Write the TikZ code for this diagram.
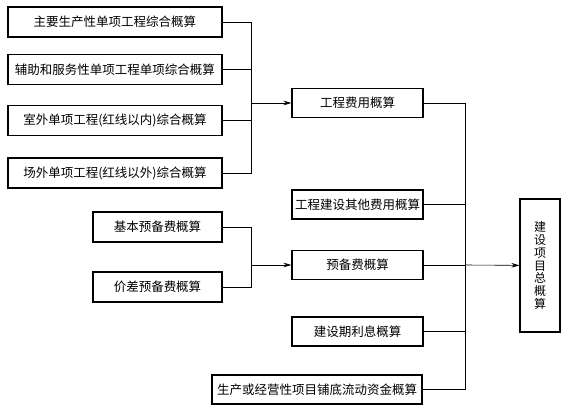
\documentclass[tikz,border=0pt]{standalone}
\usepackage{fontspec}
\setmainfont{Noto Sans CJK SC}
\usetikzlibrary{arrows.meta}
\begin{document}
\begin{tikzpicture}[x=1pt,y=-1pt]
    \tikzstyle{noeud}=[rectangle,draw,line width=1.1pt,inner sep=0pt,align=center,font=\fontsize{12.5}{13}\selectfont]
    \tikzstyle{link}=[-{Stealth[length=8pt,width=4.5pt]},line width=0.6pt]
    \tikzstyle{ligne}=[line width=0.6pt]
    \useasboundingbox (0,0) rectangle (571,415);
    \node[noeud,minimum width=214,minimum height=30] (N01) at (115,22) {主要生产性单项工程综合概算};
    \node[noeud,minimum width=214,minimum height=30] (N02) at (115,69.5) {辅助和服务性单项工程单项综合概算};
    \node[noeud,minimum width=214,minimum height=30] (N03) at (115,120.5) {室外单项工程(红线以内)综合概算};
    \node[noeud,minimum width=214,minimum height=30] (N04) at (115,173) {场外单项工程(红线以外)综合概算};
    \node[noeud,minimum width=129,minimum height=30] (N11) at (157.5,227) {基本预备费概算};
    \node[noeud,minimum width=129,minimum height=30] (N12) at (157.5,287) {价差预备费概算};
    \node[noeud,minimum width=131,minimum height=29] (N05) at (357.5,103) {工程费用概算};
    \node[noeud,minimum width=131,minimum height=29] (N06) at (357.5,204.5) {工程建设其他费用概算};
    \node[noeud,minimum width=131,minimum height=29] (N07) at (357.5,265) {预备费概算};
    \node[noeud,minimum width=131,minimum height=29] (N08) at (357.5,331.5) {建设期利息概算};
    \node[noeud,minimum width=210,minimum height=29] (N09) at (317,389.5) {生产或经营性项目铺底流动资金概算};
    \node[noeud,minimum width=40,minimum height=133,font=\fontsize{12}{12.7}\selectfont] (N10) at (540,265.5) {建\\设\\项\\目\\总\\概\\算};

    \coordinate (J1) at (251,103);
    \coordinate (J2) at (251,265);
    \coordinate (J3) at (465,265);
    \draw[ligne] (N01) -| (J1);
    \draw[ligne] (N02) -| (J1);
    \draw[ligne] (N03) -| (J1);
    \draw[ligne] (N04) -| (J1);
    \draw[link] (J1) -- (N05);
    \draw[ligne] (N11) -| (J2);
    \draw[ligne] (N12) -| (J2);
    \draw[link] (J2) -- (N07);
    \draw[ligne] (N05) -| (J3);
    \draw[ligne] (N06) -| (J3);
    \draw[ligne] (N07) -| (J3);
    \draw[ligne] (N08) -| (J3);
    \draw[ligne] (N09) -| (J3);
    \draw[link] (J3) -- (N10);
\end{tikzpicture}
\end{document}
